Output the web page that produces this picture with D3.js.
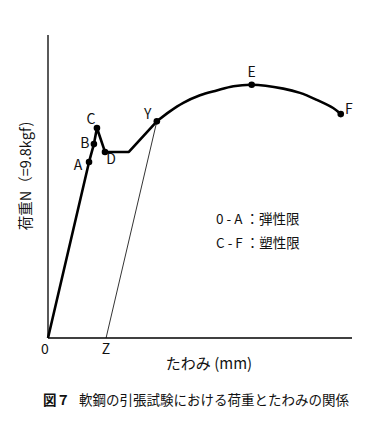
<!DOCTYPE html>
<html>
<head>
<meta charset="utf-8">
<script src="https://cdn.jsdelivr.net/npm/d3@7"></script>
<style>
  body { margin: 0; background: #fff; }
  text { font-family: "Noto Sans CJK JP", "Noto Sans", sans-serif; fill: #111; }
</style>
</head>
<body>
<div id="chart"></div>
<script>
// load-deflection curve (arbitrary units 0..100)
var curveX = [0, 13.5, 15.1, 16.1, 18.75, 26.6, 35.8, 40.1, 44.5, 50.0, 55.5, 61.0, 67.0, 77.4, 82.9, 88.4, 93.8, 96.3];
var curveY = [0, 58.1, 64.0, 69.3, 61.4, 61.4, 71.5, 74.8, 77.6, 80.1, 81.7, 83.1, 83.6, 82.3, 80.9, 78.6, 75.9, 73.9];

var pointNames = ["A", "B", "C", "D", "Y", "E", "F"];
var pointX = [13.5, 15.1, 16.1, 18.75, 35.8, 67.0, 96.3];
var pointY = [58.1, 64.0, 69.3, 61.4, 71.5, 83.6, 73.9];

var zX = 19.1;
var legendLines = ["0 - A ：弾性限", "C - F ：塑性限"];

var width = 390, height = 430;
var svg = d3.select('#chart').append('svg')
    .attr('width', width)
    .attr('height', height);

var x = d3.scaleLinear().domain([0, 100]).range([48, 352]);
var y = d3.scaleLinear().domain([0, 100]).range([338, 35]);

// axes
svg.append('line')
    .attr('x1', x(0)).attr('y1', y(0)).attr('x2', x(0)).attr('y2', y(100))
    .attr('stroke', '#000').attr('stroke-width', 1.3);
svg.append('line')
    .attr('x1', x(0)).attr('y1', y(0)).attr('x2', x(100)).attr('y2', y(0))
    .attr('stroke', '#000').attr('stroke-width', 1.3);

// thin unloading line Z - Y
svg.append('line')
    .attr('x1', x(zX)).attr('y1', y(0))
    .attr('x2', x(pointX[4])).attr('y2', y(pointY[4]))
    .attr('stroke', '#000').attr('stroke-width', 0.8);

var pts = curveX.map((d, i) => [d, curveY[i]]);
var straight = pts.slice(0, 7);
var arc = pts.slice(6);

svg.append('path')
    .attr('d', d3.line().x(d => x(d[0])).y(d => y(d[1]))(straight))
    .attr('fill', 'none').attr('stroke', '#000').attr('stroke-width', 2.6)
    .attr('stroke-linejoin', 'round');
svg.append('path')
    .attr('d', d3.line().x(d => x(d[0])).y(d => y(d[1])).curve(d3.curveCatmullRom)(arc))
    .attr('fill', 'none').attr('stroke', '#000').attr('stroke-width', 2.6);

// marker dots
svg.selectAll('circle.pt')
    .data(pointNames)
    .enter().append('circle')
    .attr('class', 'pt')
    .attr('cx', (d, i) => x(pointX[i]))
    .attr('cy', (d, i) => y(pointY[i]))
    .attr('r', 3.3)
    .attr('fill', '#000');

// point labels
var labelOff = {A: [-11, 4], B: [-9, 0], C: [-6, -8], D: [6, 8], Y: [-9, -6], E: [0, -11], F: [8, -4]};
svg.selectAll('text.pl')
    .data(pointNames)
    .enter().append('text')
    .attr('class', 'pl')
    .attr('x', (d, i) => x(pointX[i]) + labelOff[d][0])
    .attr('y', (d, i) => y(pointY[i]) + labelOff[d][1])
    .attr('text-anchor', 'middle')
    .attr('dominant-baseline', 'middle')
    .style('font-size', '14px')
    .text(d => d);

// tick-like labels
svg.append('text').attr('x', x(0) - 3).attr('y', 350)
    .attr('text-anchor', 'middle').attr('dominant-baseline', 'middle')
    .style('font-size', '14px').text('0');
svg.append('text').attr('x', x(zX)).attr('y', 350)
    .attr('text-anchor', 'middle').attr('dominant-baseline', 'middle')
    .style('font-size', '14px').text('Z');

// axis titles
svg.append('text').attr('x', 209).attr('y', 365)
    .attr('text-anchor', 'middle').attr('dominant-baseline', 'middle')
    .style('font-size', '15px').text('たわみ (mm)');
svg.append('text')
    .attr('transform', 'translate(27,176) rotate(-90)')
    .attr('text-anchor', 'middle').attr('dominant-baseline', 'middle')
    .style('font-size', '14.5px').text('荷重N（=9.8kgf)');

// legend
svg.selectAll('text.lg')
    .data(legendLines)
    .enter().append('text')
    .attr('class', 'lg')
    .attr('x', 216)
    .attr('y', (d, i) => 220 + i * 24)
    .attr('dominant-baseline', 'middle')
    .style('font-size', '13.5px')
    .text(d => d);

// caption
var cap = svg.append('text').attr('x', 43).attr('y', 401)
    .attr('dominant-baseline', 'middle').style('font-size', '13.5px');
cap.append('tspan').style('font-weight', 'bold').text('図７');
cap.append('tspan').attr('dx', 9).text('軟鋼の引張試験における荷重とたわみの関係');
</script>
</body>
</html>
